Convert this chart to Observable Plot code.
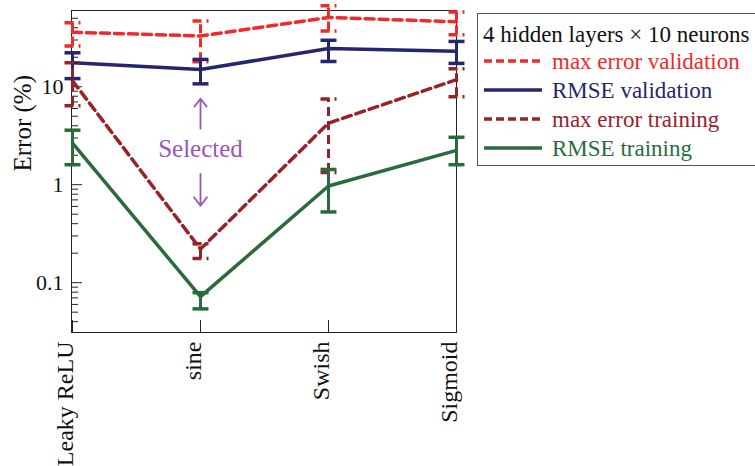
<!DOCTYPE html>
<html><head><meta charset="utf-8">
<script src="https://cdn.jsdelivr.net/npm/d3@7"></script>
<script src="https://cdn.jsdelivr.net/npm/@observablehq/plot@0.6"></script>
<style>
body{margin:0;background:#fff;}
#wrap{position:relative;width:755px;height:466px;overflow:hidden;font-family:"Liberation Serif","Times New Roman",serif;}
#chart{position:absolute;left:0;top:0;}
#legend{position:absolute;left:477px;top:13px;width:300px;height:153px;border:1.5px solid #555;box-sizing:border-box;padding-top:6px;padding-left:5px;font-size:23px;background:#fff;}
#legend .title{height:27px;line-height:29px;color:#111;white-space:nowrap;}
#legend .row{height:29px;line-height:29px;white-space:nowrap;}
#legend svg{vertical-align:top;margin-right:9px;}
</style></head>
<body><div id="wrap"><div id="chart"></div><div id="legend"></div></div>
<script>
const categories = ["Leaky ReLU", "sine", "Swish", "Sigmoid"];
const seriesNames = ["max error validation", "RMSE validation", "max error training", "RMSE training"];
const seriesColors = ["#f02a2a", "#26266e", "#972228", "#2a6b3c"];
const seriesDashed = [true, false, true, false];
const legendTitle = "4 hidden layers \u00d7 10 neurons";

// values (%) per category
const maxErrVal   = [36, 33, 51, 46];
const maxErrValLo = [26, 18, 37, 34];
const maxErrValHi = [45, 47, 67, 58];

const rmseVal   = [17.6, 15, 24.6, 23];
const rmseValLo = [12.1, 10.7, 18.1, 17.3];
const rmseValHi = [22.2, 19, 29.8, 29];

const maxErrTr   = [11.5, 0.22, 4.25, 11.8];
const maxErrTrLo = [6.4, 0.177, 1.33, 7.9];
const maxErrTrHi = [17.6, 0.25, 7.5, 15.3];

const rmseTr   = [2.65, 0.072, 0.97, 2.24];
const rmseTrLo = [1.6, 0.054, 0.527, 1.6];
const rmseTrHi = [3.6, 0.079, 1.43, 3.05];

const majorTicks = [0.1, 1, 10];
const majorTickLabels = ["0.1", "1", "10"];
const yLabel = "Error (%)";

const annotText = "Selected";
const annotX = "sine";
const annotTextY = 2.33;
const arrowTails = [3.73, 1.29];
const arrowTips = [7.55, 0.61];
const annotColor = "#9b55bb";

const yDomain = [0.031, 60];

const centers = [maxErrVal, rmseVal, maxErrTr, rmseTr];
const lows = [maxErrValLo, rmseValLo, maxErrTrLo, rmseTrLo];
const highs = [maxErrValHi, rmseValHi, maxErrTrHi, rmseTrHi];

const minorTicks = [0.01, 0.1, 1, 10].flatMap(d => [2,3,4,5,6,7,8,9].map(k => +(k * d).toPrecision(3)))
  .filter(v => v >= yDomain[0] && v <= yDomain[1]);

const W = 755, H = 466, mL = 71, mR = 299, mT = 10, mB = 134;
const plotW = W - mL - mR, plotH = H - mT - mB;
const dash = "9,5";

// horizontal cap symbol for error bars
const capSymbol = {draw(ctx) { ctx.moveTo(-8, 0); ctx.lineTo(8, 0); }};

const seriesMarks = seriesNames.flatMap((name, s) => {
  const rows = categories.map((c, i) => ({cat: c, v: centers[s][i], lo: lows[s][i], hi: highs[s][i]}));
  const color = seriesColors[s];
  const da = seriesDashed[s] ? dash : null;
  return [
    Plot.ruleX(rows, {x: "cat", y1: "lo", y2: "hi", stroke: color, strokeWidth: 3, strokeDasharray: da}),
    Plot.dot(rows, {x: "cat", y: "lo", symbol: capSymbol, fill: "none", stroke: color, strokeWidth: 3.5, strokeDasharray: da}),
    Plot.dot(rows, {x: "cat", y: "hi", symbol: capSymbol, fill: "none", stroke: color, strokeWidth: 3.5, strokeDasharray: da}),
    Plot.line(rows, {x: "cat", y: "v", stroke: color, strokeWidth: 3.5, strokeDasharray: da, strokeLinejoin: "miter"})
  ];
});

const chart = Plot.plot({
  width: W, height: H,
  marginLeft: mL, marginRight: mR, marginTop: mT, marginBottom: mB,
  x: {type: "point", domain: categories, padding: 0, axis: null},
  y: {type: "log", domain: yDomain, axis: null},
  style: {fontFamily: "'Liberation Serif', 'Times New Roman', serif", background: "transparent", overflow: "visible", color: "#111"},
  marks: [
    Plot.frame({stroke: "#222", strokeWidth: 1}),
    Plot.tickY(minorTicks, {y: d => d, stroke: "#222", strokeWidth: 1, insetRight: plotW - 7}),
    Plot.tickY(majorTicks, {y: d => d, stroke: "#222", strokeWidth: 1, insetRight: plotW - 11}),
    Plot.tickX(categories, {x: d => d, stroke: "#222", strokeWidth: 1, insetTop: plotH - 12}),
    Plot.text(majorTicks, {y: d => d, text: (d, i) => majorTickLabels[i], frameAnchor: "left", textAnchor: "end", dx: -8, fontSize: 22, fill: "#111"}),
    Plot.text([yLabel], {text: d => d, frameAnchor: "left", rotate: -90, dx: -49, fontSize: 25, fill: "#111"}),
    Plot.text(categories, {x: d => d, text: d => d, frameAnchor: "bottom", rotate: -90, textAnchor: "end", dy: 9, fontSize: 24, fill: "#111"}),
    ...seriesMarks,
    Plot.text([annotText], {x: () => annotX, y: () => annotTextY, text: d => d, fontSize: 25, fill: annotColor}),
    Plot.arrow(arrowTails.map((t, i) => ({x: annotX, y1: t, y2: arrowTips[i]})), {x: "x", y1: "y1", y2: "y2", stroke: annotColor, strokeWidth: 1.8, headLength: 13, headAngle: 75, bend: 0})
  ]
});
document.getElementById("chart").appendChild(chart);

// legend
const lg = document.getElementById("legend");
let html = `<div class="title">${legendTitle}</div>`;
seriesNames.forEach((n, s) => {
  html += `<div class="row" style="color:${seriesColors[s]}"><svg width="60" height="29"><line x1="1" x2="59" y1="14" y2="14" stroke="${seriesColors[s]}" stroke-width="3.5" ${seriesDashed[s] ? 'stroke-dasharray="8,4"' : ''}/></svg>${n}</div>`;
});
lg.innerHTML = html;
</script>
</body></html>
